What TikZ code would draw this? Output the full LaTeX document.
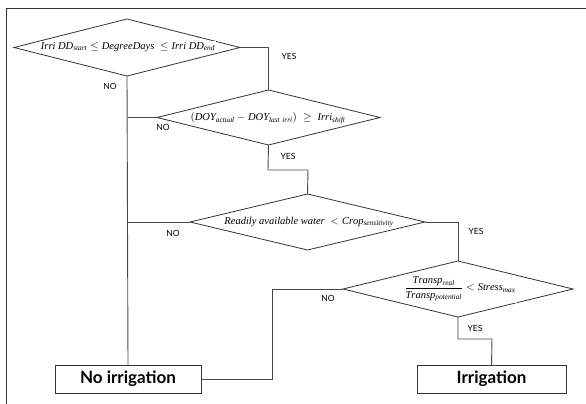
\documentclass[tikz,border=0pt]{standalone}
\usepackage{amsmath}
\usepackage{fontspec}
\setmainfont{Liberation Serif}
\setsansfont{Lato}
\usetikzlibrary{shapes.geometric}
\definecolor{edge}{HTML}{333333}
\definecolor{conn}{HTML}{484848}
\tikzset{
  decision/.style={diamond, draw=edge, line width=0.8pt, inner sep=0pt, outer sep=0pt},
  condtext/.style={fill=white, inner sep=1pt, font=\fontsize{10.5}{12}\selectfont},
  yn/.style={font=\sffamily\fontsize{8.5}{10}\selectfont, inner sep=0pt},
  outbox/.style={draw=edge, line width=0.9pt, inner sep=0pt, outer sep=0pt, minimum height=28pt, font=\sffamily\bfseries\fontsize{17}{20}\selectfont},
  link/.style={draw=conn, line width=0.9pt},
}
\begin{document}
\begin{tikzpicture}[x=1pt,y=-1pt]
\useasboundingbox (0,0) rectangle (586,404);
% frame
\draw[edge, line width=1.6pt] (5.5,8.5) -- (586,8.5);
\draw[edge, line width=1.2pt] (6.5,8.5) -- (6.5,404);
% decisions
\node[decision, minimum width=226pt, minimum height=57pt] (d1) at (127,47.5) {};
\node[decision, minimum width=223pt, minimum height=55pt] (d2) at (268.5,117.5) {};
\node[decision, minimum width=235pt, minimum height=56pt] (d3) at (307.5,222) {};
\node[decision, minimum width=230pt, minimum height=56pt] (d4) at (458,289) {};
\node[condtext] (t1) at (128,47) {$\mathit{Irri\ DD_{start}} \le \mathit{DegreeDays}\ \le \mathit{Irri\ DD_{end}}$};
\node[condtext] (t2) at (268,118) {$(\mathit{DOY_{actual}} - \mathit{DOY_{last\ irri}})\;\ge\;\mathit{Irri_{shift}}$};
\node[condtext] (t3) at (309,222) {$\mathit{Readily\ available\ water}\ < \mathit{Crop_{sensitivity}}$};
\node[condtext] (t4) at (460,289) {$\dfrac{\mathit{Transp_{real}}}{\mathit{Transp_{potential}}} < \mathit{Stress_{max}}$};
% outcomes
\node[outbox, minimum width=146pt] (no) at (128,379) {No irrigation};
\node[outbox, minimum width=149pt] (yes) at (491.5,379) {Irrigation};
% connectors
\coordinate (c2a) at (268,170);
\coordinate (c2b) at (308,170);
\coordinate (c4a) at (272,289);
\coordinate (c4b) at (272,379);
\coordinate (c5a) at (458,339);
\coordinate (c5b) at (492,339);
\draw[link] (d1.east) -| (d2.north);
\draw[link] (d1.south) -- (no.north);
\draw[link] (d2.west) -- (d2.west -| no.north);
\draw[link] (d2.south) -- (c2a) -- (c2b) -- (d3.north);
\draw[link] (d3.west) -- (d3.west -| no.north);
\draw[link] (d3.east) -| (d4.north);
\draw[link] (d4.west) -- (c4a) -- (c4b) -- (no.east);
\draw[link] (d4.south) -- (c5a) -- (c5b) -- (yes.north);
% labels
\node[yn] (l1) at (289,56) {YES};
\node[yn] (l2) at (110,86) {NO};
\node[yn] (l3) at (163,127) {NO};
\node[yn] (l4) at (288,156) {YES};
\node[yn] (l5) at (173,233) {NO};
\node[yn] (l6) at (476,231) {YES};
\node[yn] (l7) at (328,298) {NO};
\node[yn] (l8) at (475,328) {YES};
\end{tikzpicture}
\end{document}
